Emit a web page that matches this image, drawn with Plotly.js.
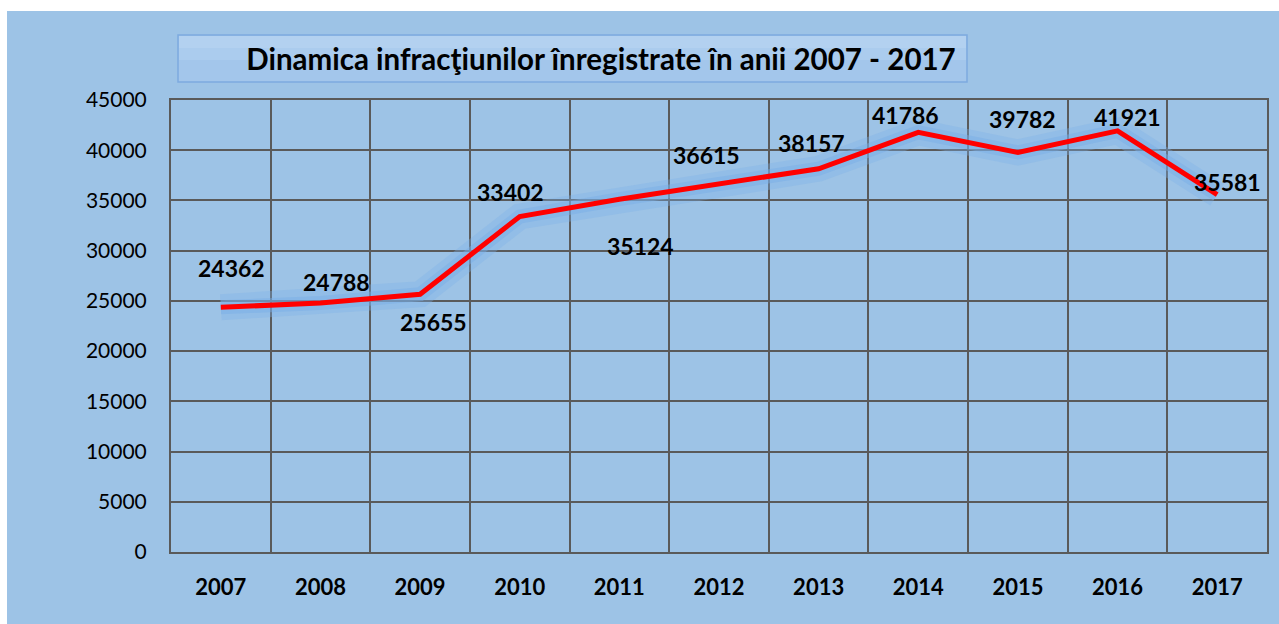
<!DOCTYPE html>
<html>
<head>
<meta charset="utf-8">
<script src="https://cdn.plot.ly/plotly-3.0.1.min.js"></script>
<style>
  html, body { margin: 0; padding: 0; background: #ffffff; width: 1279px; height: 624px; overflow: hidden; }
  #chart { position: absolute; left: 7px; top: 11px; width: 1272px; height: 613px; }
</style>
</head>
<body>
<div id="chart"></div>
<script>
const years = ['2007','2008','2009','2010','2011','2012','2013','2014','2015','2016','2017'];
const crimes = [24362, 24788, 25655, 33402, 35124, 36615, 38157, 41786, 39782, 41921, 35581];
const labelDX = [11, 16, 13, -9, 21, -13, -7, -13, 5, 10, 10];
const labelDY = [39, 21, -28, 25, -47, 29, 26, 17, 33, 14, 13];
const titleText = 'Dinamica infracţiunilor înregistrate în anii 2007 - 2017';

const FONT = 'Lato, "Open Sans", sans-serif';
const BG = '#9DC3E6';

const glowOuter = {
  x: years, y: crimes, type: 'scatter', mode: 'lines',
  line: { color: 'rgba(125,178,232,0.35)', width: 26 },
  hoverinfo: 'skip', showlegend: false
};
const glowInner = {
  x: years, y: crimes, type: 'scatter', mode: 'lines',
  line: { color: 'rgba(120,172,230,0.45)', width: 14 },
  hoverinfo: 'skip', showlegend: false
};
const main = {
  x: years, y: crimes, type: 'scatter', mode: 'lines',
  line: { color: '#FF0000', width: 5 },
  showlegend: false
};

const annotations = years.map((yr, i) => ({
  x: i, y: crimes[i], xref: 'x', yref: 'y',
  text: '<b>' + crimes[i] + '</b>', showarrow: false,
  xanchor: 'center', yanchor: 'middle',
  xshift: labelDX[i], yshift: labelDY[i],
  font: { family: FONT, size: 23, color: '#000000' }
}));

const layout = {
  width: 1272, height: 613,
  paper_bgcolor: BG, plot_bgcolor: BG,
  margin: { l: 164, r: 12, t: 89, b: 72 },
  font: { family: FONT, color: '#000000' },
  title: {
    text: '<b>' + titleText + '</b>',
    xref: 'container', yref: 'container',
    x: (601 - 7) / 1272, xanchor: 'center',
    y: 1 - (60 - 11) / 613, yanchor: 'middle',
    font: { family: FONT, size: 29.5, color: '#000000' }
  },
  xaxis: {
    type: 'category',
    range: [-0.5, 10.5],
    tickson: 'boundaries',
    showgrid: true, gridcolor: '#5A5A5A', gridwidth: 2,
    showline: true, linecolor: '#5A5A5A', linewidth: 2, mirror: true,
    ticks: 'outside', ticklen: 20, tickcolor: 'rgba(0,0,0,0)',
    ticklabelstandoff: 15,
    tickfont: { family: FONT, size: 22, color: '#000000', weight: 'bold' },
    zeroline: false, fixedrange: true
  },
  yaxis: {
    range: [0, 45000], dtick: 5000, tick0: 0, tickformat: 'd',
    showgrid: true, gridcolor: '#5A5A5A', gridwidth: 2,
    showline: true, linecolor: '#5A5A5A', linewidth: 2, mirror: true,
    ticks: 'outside', ticklen: 18, tickcolor: 'rgba(0,0,0,0)',
    tickfont: { family: FONT, size: 21, color: '#000000' },
    zeroline: false, fixedrange: true
  },
  shapes: [
    {
      type: 'rect', xref: 'paper', yref: 'paper', layer: 'below',
      x0: (178 - 171) / 1096, x1: (967 - 171) / 1096,
      y0: (552 - 82) / 452, y1: (552 - 35) / 452,
      fillcolor: '#A3C6EB', line: { color: '#7DAAE0', width: 1.5 }
    },
    {
      type: 'rect', xref: 'paper', yref: 'paper', layer: 'below',
      x0: (179 - 171) / 1096, x1: (966 - 171) / 1096,
      y0: (552 - 60) / 452, y1: (552 - 36) / 452,
      fillcolor: '#ABCCEE', line: { width: 0 }
    },
    {
      type: 'rect', xref: 'paper', yref: 'paper', layer: 'below',
      x0: (179 - 171) / 1096, x1: (966 - 171) / 1096,
      y0: (552 - 48) / 452, y1: (552 - 36) / 452,
      fillcolor: '#B3D1F0', line: { width: 0 }
    }
  ],
  annotations: annotations,
  showlegend: false
};

Plotly.newPlot('chart', [glowOuter, glowInner, main], layout, { displayModeBar: false, staticPlot: true });
</script>
</body>
</html>
